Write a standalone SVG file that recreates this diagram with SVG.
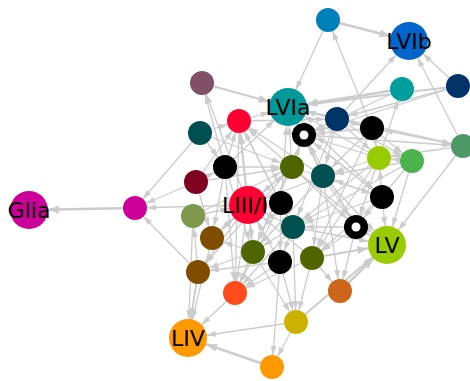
<svg xmlns="http://www.w3.org/2000/svg" width="470" height="381" viewBox="0 0 470 381">
<style>
.e{stroke:#cccccc;stroke-width:1.3;fill:none;marker-end:url(#a)}
.E{stroke:#cccccc;stroke-width:1.3;fill:none;marker-end:url(#A)}
.t{stroke:#cccccc;stroke-width:2.6;fill:none;marker-end:url(#b)}
.T{stroke:#cccccc;stroke-width:2.6;fill:none;marker-end:url(#B)}
.lb{font-family:"DejaVu Sans","Liberation Sans",sans-serif;font-size:22px;fill:#000;text-anchor:middle}
</style>
<defs>
<marker id="a" markerUnits="userSpaceOnUse" markerWidth="9" markerHeight="6" refX="21" refY="3" orient="auto" overflow="visible"><path d="M0,0L9,3L0,6z" fill="#cccccc"/></marker>
<marker id="A" markerUnits="userSpaceOnUse" markerWidth="9" markerHeight="6" refX="28" refY="3" orient="auto" overflow="visible"><path d="M0,0L9,3L0,6z" fill="#cccccc"/></marker>
<marker id="b" markerUnits="userSpaceOnUse" markerWidth="11" markerHeight="8" refX="23" refY="4" orient="auto" overflow="visible"><path d="M0,0L11,4L0,8z" fill="#cccccc"/></marker>
<marker id="B" markerUnits="userSpaceOnUse" markerWidth="11" markerHeight="8" refX="30" refY="4" orient="auto" overflow="visible"><path d="M0,0L11,4L0,8z" fill="#cccccc"/></marker>
</defs>
<rect width="470" height="381" fill="#ffffff"/>
<g id="edges">
<line class="T" x1="328" y1="20" x2="409" y2="41"/>
<line class="E" x1="328" y1="20" x2="288" y2="107"/>
<line class="e" x1="372" y1="128" x2="328" y2="20"/>
<line class="E" x1="337" y1="119" x2="409" y2="41"/>
<line class="E" x1="458" y1="86" x2="409" y2="41"/>
<line class="E" x1="463" y1="146" x2="409" y2="41"/>
<line class="T" x1="402" y1="89" x2="288" y2="107"/>
<line class="E" x1="458" y1="86" x2="288" y2="107" style="stroke-width:2"/>
<line class="e" x1="458" y1="86" x2="304" y2="135"/>
<line class="e" x1="304" y1="135" x2="463" y2="146"/>
<line class="e" x1="379" y1="158" x2="402" y2="89"/>
<line class="T" x1="202" y1="83" x2="288" y2="107" style="stroke-width:2"/>
<line class="E" x1="239" y1="121" x2="288" y2="107"/>
<line class="e" x1="200" y1="133" x2="135" y2="208"/>
<line class="e" x1="196" y1="182" x2="135" y2="208"/>
<line class="e" x1="248" y1="205" x2="135" y2="208"/>
<line class="e" x1="198" y1="272" x2="135" y2="208"/>
<line class="T" x1="135" y1="208" x2="29" y2="210"/>
<line class="e" x1="225" y1="167" x2="202" y2="83"/>
<line class="e" x1="248" y1="205" x2="202" y2="83"/>
<line class="E" x1="193" y1="216" x2="188" y2="338"/>
<line class="T" x1="198" y1="272" x2="188" y2="338" style="stroke-width:2"/>
<line class="E" x1="212" y1="238" x2="188" y2="338"/>
<line class="E" x1="235" y1="293" x2="188" y2="338"/>
<line class="E" x1="296" y1="322" x2="188" y2="338"/>
<line class="T" x1="272" y1="367" x2="188" y2="338"/>
<line class="e" x1="280" y1="262" x2="272" y2="367"/>
<line class="e" x1="296" y1="322" x2="272" y2="367"/>
<line class="e" x1="253" y1="252" x2="296" y2="322"/>
<line class="e" x1="312" y1="258" x2="296" y2="322"/>
<line class="T" x1="340" y1="291" x2="387" y2="245"/>
<line class="E" x1="296" y1="322" x2="387" y2="245" style="stroke-width:2"/>
<line class="e" x1="312" y1="258" x2="340" y2="291"/>
<line class="T" x1="312" y1="258" x2="387" y2="245" style="stroke-width:2"/>
<line class="E" x1="382" y1="197" x2="387" y2="245"/>
<line class="E" x1="463" y1="146" x2="387" y2="245"/>
<line class="E" x1="412" y1="161" x2="387" y2="245"/>
<line class="E" x1="356" y1="227" x2="387" y2="245"/>
<line class="e" x1="225" y1="167" x2="239" y2="121"/>
<line class="t" x1="248" y1="205" x2="239" y2="121" style="stroke-width:2"/>
<line class="E" x1="225" y1="167" x2="288" y2="107"/>
<line class="e" x1="200" y1="133" x2="239" y2="121"/>
<line class="e" x1="200" y1="133" x2="225" y2="167"/>
<line class="e" x1="196" y1="182" x2="225" y2="167"/>
<line class="e" x1="196" y1="182" x2="239" y2="121"/>
<line class="E" x1="193" y1="216" x2="248" y2="205"/>
<line class="E" x1="212" y1="238" x2="248" y2="205"/>
<line class="E" x1="292" y1="167" x2="288" y2="107"/>
<line class="T" x1="304" y1="135" x2="288" y2="107" style="stroke-width:2"/>
<line class="E" x1="337" y1="119" x2="288" y2="107"/>
<line class="E" x1="323" y1="176" x2="288" y2="107"/>
<line class="E" x1="281" y1="203" x2="288" y2="107"/>
<line class="e" x1="292" y1="167" x2="239" y2="121"/>
<line class="e" x1="281" y1="203" x2="239" y2="121"/>
<line class="e" x1="323" y1="176" x2="239" y2="121"/>
<line class="e" x1="293" y1="227" x2="239" y2="121"/>
<line class="E" x1="379" y1="158" x2="288" y2="107"/>
<line class="E" x1="372" y1="128" x2="288" y2="107"/>
<line class="e" x1="372" y1="128" x2="304" y2="135"/>
<line class="e" x1="337" y1="119" x2="304" y2="135"/>
<line class="e" x1="292" y1="167" x2="304" y2="135"/>
<line class="e" x1="323" y1="176" x2="304" y2="135"/>
<line class="e" x1="379" y1="158" x2="304" y2="135"/>
<line class="e" x1="356" y1="227" x2="304" y2="135"/>
<line class="e" x1="382" y1="197" x2="304" y2="135"/>
<line class="e" x1="372" y1="128" x2="323" y2="176"/>
<line class="e" x1="337" y1="119" x2="323" y2="176"/>
<line class="e" x1="379" y1="158" x2="323" y2="176"/>
<line class="e" x1="412" y1="161" x2="323" y2="176"/>
<line class="e" x1="382" y1="197" x2="323" y2="176"/>
<line class="E" x1="323" y1="176" x2="248" y2="205"/>
<line class="E" x1="292" y1="167" x2="248" y2="205"/>
<line class="E" x1="293" y1="227" x2="248" y2="205"/>
<line class="E" x1="253" y1="252" x2="248" y2="205"/>
<line class="E" x1="280" y1="262" x2="248" y2="205"/>
<line class="E" x1="312" y1="258" x2="248" y2="205"/>
<line class="e" x1="248" y1="205" x2="212" y2="238"/>
<line class="e" x1="248" y1="205" x2="198" y2="272"/>
<line class="e" x1="248" y1="205" x2="235" y2="293"/>
<line class="e" x1="225" y1="167" x2="212" y2="238"/>
<line class="e" x1="225" y1="167" x2="235" y2="293"/>
<line class="e" x1="239" y1="121" x2="235" y2="293"/>
<line class="e" x1="239" y1="121" x2="253" y2="252"/>
<line class="e" x1="292" y1="167" x2="253" y2="252"/>
<line class="e" x1="323" y1="176" x2="253" y2="252"/>
<line class="e" x1="293" y1="227" x2="253" y2="252"/>
<line class="e" x1="304" y1="135" x2="253" y2="252"/>
<line class="e" x1="281" y1="203" x2="280" y2="262"/>
<line class="e" x1="293" y1="227" x2="280" y2="262"/>
<line class="e" x1="253" y1="252" x2="198" y2="272"/>
<line class="e" x1="253" y1="252" x2="235" y2="293"/>
<line class="e" x1="280" y1="262" x2="235" y2="293"/>
<line class="e" x1="312" y1="258" x2="235" y2="293"/>
<line class="e" x1="293" y1="227" x2="235" y2="293"/>
<line class="e" x1="292" y1="167" x2="198" y2="272"/>
<line class="e" x1="323" y1="176" x2="312" y2="258"/>
<line class="e" x1="356" y1="227" x2="312" y2="258"/>
<line class="e" x1="382" y1="197" x2="312" y2="258"/>
<line class="e" x1="379" y1="158" x2="312" y2="258"/>
<line class="e" x1="372" y1="128" x2="312" y2="258"/>
<line class="e" x1="356" y1="227" x2="293" y2="227"/>
<line class="e" x1="382" y1="197" x2="293" y2="227"/>
<line class="e" x1="379" y1="158" x2="293" y2="227"/>
<line class="e" x1="412" y1="161" x2="293" y2="227"/>
<line class="e" x1="337" y1="119" x2="293" y2="227"/>
<line class="e" x1="412" y1="161" x2="379" y2="158"/>
<line class="e" x1="372" y1="128" x2="379" y2="158"/>
<line class="e" x1="337" y1="119" x2="379" y2="158"/>
<line class="e" x1="337" y1="119" x2="412" y2="161"/>
<line class="e" x1="372" y1="128" x2="412" y2="161"/>
<line class="e" x1="382" y1="197" x2="379" y2="158"/>
<line class="e" x1="292" y1="167" x2="356" y2="227"/>
<line class="e" x1="323" y1="176" x2="356" y2="227"/>
<line class="e" x1="379" y1="158" x2="356" y2="227"/>
<line class="e" x1="412" y1="161" x2="356" y2="227"/>
<line class="e" x1="337" y1="119" x2="372" y2="128"/>
<line class="e" x1="239" y1="121" x2="337" y2="119"/>
<line class="e" x1="225" y1="167" x2="292" y2="167"/>
<line class="e" x1="200" y1="133" x2="292" y2="167"/>
<line class="e" x1="196" y1="182" x2="292" y2="167"/>
<line class="e" x1="193" y1="216" x2="292" y2="167"/>
<line class="e" x1="212" y1="238" x2="292" y2="167"/>
<line class="e" x1="288" y1="107" x2="382" y2="197"/>
<line class="e" x1="304" y1="135" x2="382" y2="197"/>
<line class="e" x1="292" y1="167" x2="382" y2="197"/>
<line class="e" x1="198" y1="272" x2="193" y2="216"/>
<line class="e" x1="253" y1="252" x2="212" y2="238"/>
<line class="e" x1="280" y1="262" x2="198" y2="272"/>
<line class="e" x1="281" y1="203" x2="235" y2="293"/>
<line class="e" x1="293" y1="227" x2="296" y2="322"/>
<line class="e" x1="280" y1="262" x2="296" y2="322"/>
<line class="e" x1="323" y1="176" x2="340" y2="291"/>
<line class="e" x1="356" y1="227" x2="340" y2="291"/>
<line class="E" x1="292" y1="167" x2="387" y2="245"/>
<line class="E" x1="323" y1="176" x2="387" y2="245"/>
<line class="E" x1="293" y1="227" x2="387" y2="245"/>
<line class="e" x1="288" y1="107" x2="463" y2="146"/>
<line class="e" x1="463" y1="146" x2="372" y2="128"/>
<line class="e" x1="463" y1="146" x2="379" y2="158"/>
<line class="e" x1="402" y1="89" x2="304" y2="135"/>
<line class="e" x1="458" y1="86" x2="337" y2="119"/>
<line class="e" x1="225" y1="167" x2="253" y2="252"/>
<line class="e" x1="196" y1="182" x2="212" y2="238"/>
</g>
<g id="n1"><circle cx="328" cy="20" r="12" fill="#0080b8"/></g>
<g id="n2"><circle cx="409" cy="41" r="19" fill="#0066cc"/><text class="lb" x="409" y="49">LVIb</text></g>
<g id="n3"><circle cx="458" cy="86" r="12" fill="#003366"/></g>
<g id="n4"><circle cx="402" cy="89" r="12" fill="#009e9c"/></g>
<g id="n5"><circle cx="288" cy="107" r="19" fill="#009999"/><text class="lb" x="288" y="115">LVIa</text></g>
<g id="n6"><circle cx="337" cy="119" r="12" fill="#003366"/></g>
<g id="n7"><circle cx="372" cy="128" r="12" fill="#000000"/></g>
<g id="n8"><circle cx="304" cy="135" r="12" fill="#000000"/><circle cx="304" cy="135" r="4.5" fill="#ffffff"/></g>
<g id="n9"><circle cx="379" cy="158" r="12" fill="#99cc00"/></g>
<g id="n10"><circle cx="412" cy="161" r="12" fill="#4cb34c"/></g>
<g id="n11"><circle cx="463" cy="146" r="12" fill="#4c9966"/></g>
<g id="n12"><circle cx="292" cy="167" r="12" fill="#4f6600"/></g>
<g id="n13"><circle cx="323" cy="176" r="12" fill="#005050"/></g>
<g id="n14"><circle cx="202" cy="83" r="12" fill="#805066"/></g>
<g id="n15"><circle cx="239" cy="121" r="12" fill="#ff0033"/></g>
<g id="n16"><circle cx="200" cy="133" r="12" fill="#005050"/></g>
<g id="n17"><circle cx="225" cy="167" r="12" fill="#000000"/></g>
<g id="n18"><circle cx="196" cy="182" r="12" fill="#800020"/></g>
<g id="n19"><circle cx="29" cy="210" r="19" fill="#cc0099"/><text class="lb" x="29" y="218">Glia</text></g>
<g id="n20"><circle cx="135" cy="208" r="12" fill="#cc0099"/></g>
<g id="n21"><circle cx="193" cy="216" r="12" fill="#7f994c"/></g>
<g id="n22"><circle cx="248" cy="205" r="19" fill="#ff0033"/><text class="lb" x="222" y="213" style="text-anchor:start">LIII/I</text></g>
<g id="n23"><circle cx="281" cy="203" r="12" fill="#000000"/></g>
<g id="n24"><circle cx="293" cy="227" r="12" fill="#005050"/></g>
<g id="n25"><circle cx="212" cy="238" r="12" fill="#7f4c00"/></g>
<g id="n26"><circle cx="253" cy="252" r="12" fill="#4f6600"/></g>
<g id="n27"><circle cx="280" cy="262" r="12" fill="#000000"/></g>
<g id="n28"><circle cx="312" cy="258" r="12" fill="#4f6600"/></g>
<g id="n29"><circle cx="198" cy="272" r="12" fill="#7f4c00"/></g>
<g id="n30"><circle cx="235" cy="293" r="12" fill="#ff4c1a"/></g>
<g id="n31"><circle cx="356" cy="227" r="12" fill="#000000"/><circle cx="356" cy="227" r="4.5" fill="#ffffff"/></g>
<g id="n32"><circle cx="382" cy="197" r="12" fill="#000000"/></g>
<g id="n33"><circle cx="387" cy="245" r="19" fill="#99cc00"/><text class="lb" x="387" y="253">LV</text></g>
<g id="n34"><circle cx="340" cy="291" r="12" fill="#cc661a"/></g>
<g id="n35"><circle cx="296" cy="322" r="12" fill="#ccb200"/></g>
<g id="n36"><circle cx="188" cy="338" r="19" fill="#ff9900"/><text class="lb" x="188" y="346">LIV</text></g>
<g id="n37"><circle cx="272" cy="367" r="12" fill="#ff9900"/></g>
</svg>
